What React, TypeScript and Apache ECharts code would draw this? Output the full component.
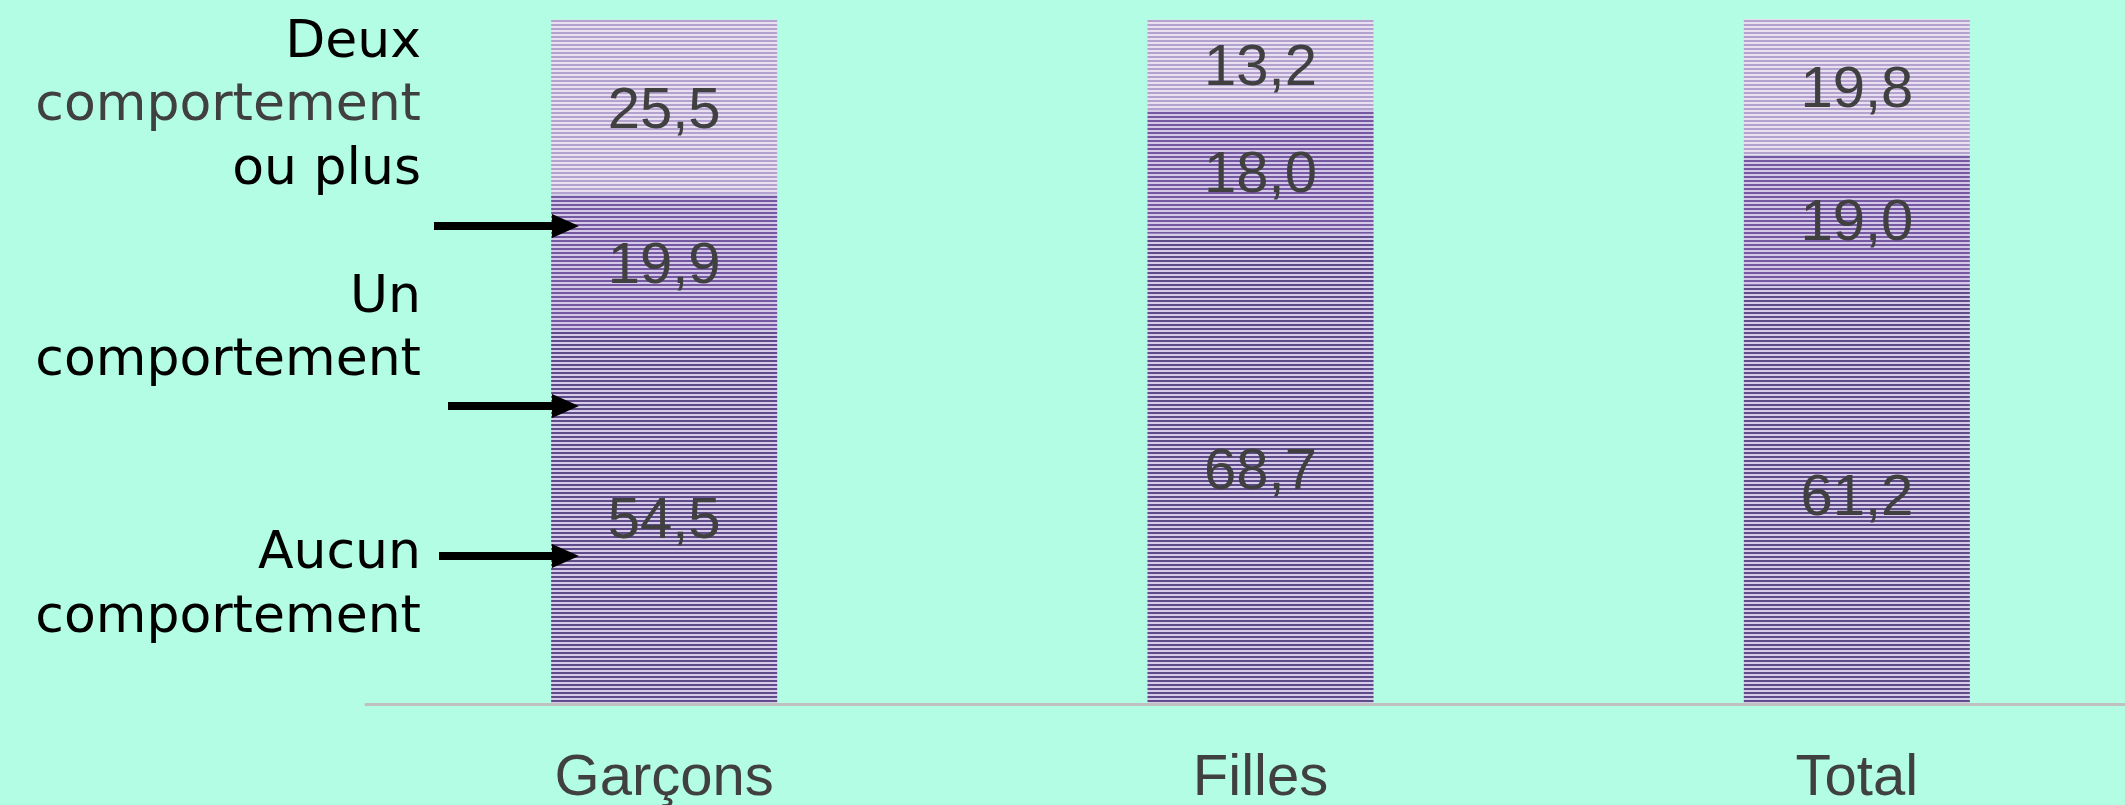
import React, { useEffect, useRef } from "react";
import * as echarts from "echarts";

const categories = ["Garçons", "Filles", "Total"];
const aucun = [54.5, 68.7, 61.2];
const un = [19.9, 18.0, 19.0];
const deux = [25.5, 13.2, 19.8];
const seriesNames = ["Aucun comportement", "Un comportement", "Deux comportements ou plus"];

const fmt = (v: number) => v.toFixed(1).replace(".", ",");

export default function App() {
  const ref = useRef<HTMLDivElement>(null);
  useEffect(() => {
    if (!ref.current) return;
    const chart = echarts.init(ref.current, undefined, { renderer: "svg" });
    const labelStyle = {
      show: true,
      position: "inside" as const,
      formatter: (p: any) => fmt(p.value),
      color: "#404040",
      fontSize: 58,
      fontFamily: "Liberation Sans, Arial, sans-serif",
    };
    const mk = (name: string, data: number[], base: string, stripe: string, edge: string) => ({
      name,
      type: "bar",
      stack: "all",
      data,
      barWidth: 226,
      itemStyle: {
        color: base,
        borderColor: edge,
        borderWidth: 0,
        decal: {
          symbol: "rect",
          symbolSize: 1,
          dashArrayX: [1, 0],
          dashArrayY: [2, 2],
          rotation: 0,
          color: stripe,
        },
      },
      label: labelStyle,
    });
    const leftFont = "DejaVu Sans, sans-serif";
    const txt = (t: string, y: number, fill: string) => ({
      type: "text",
      x: 421,
      y,
      z: 100,
      style: { text: t, fill, fontSize: 52, fontFamily: leftFont, align: "right", verticalAlign: "middle" },
    });
    const arrow = (x0: number, y: number) => ({
      type: "group",
      z: 100,
      children: [
        { type: "rect", z: 100, shape: { x: x0, y: y - 4, width: 556 - x0, height: 8 }, style: { fill: "#000" } },
        { type: "polygon", z: 100, shape: { points: [[552, y - 12], [579, y], [552, y + 12]] }, style: { fill: "#000" } },
      ],
    });
    chart.setOption({
      animation: false,
      backgroundColor: "#b3fde5",
      grid: { left: 366, right: -30, top: 19, bottom: 101, containLabel: false, outerBoundsMode: "none" },
      xAxis: {
        type: "category",
        data: categories,
        axisLine: { show: true, lineStyle: { color: "#c0c0c0", width: 3 } },
        axisTick: { show: false },
        axisLabel: { color: "#404040", fontSize: 58, margin: 41, fontFamily: "Liberation Sans, Arial, sans-serif" },
        z: 10,
      },
      yAxis: { type: "value", min: 0, max: 100, show: false, splitLine: { show: false } },
      series: [
        mk(seriesNames[0], aucun, "#d6cbe8", "#5f4a8a", "#5a4680"),
        mk(seriesNames[1], un, "#d4c7e8", "#7459a2", "#6a5296"),
        mk(seriesNames[2], deux, "#e8e0f1", "#b3a2cd", "#a898c4"),
      ],
      graphic: [
        txt("Deux", 39, "#000"),
        txt("comportement", 102, "#404040"),
        txt("ou plus", 166, "#000"),
        txt("Un", 294, "#000"),
        txt("comportement", 357, "#000"),
        txt("Aucun", 550, "#000"),
        txt("comportement", 614, "#000"),
        arrow(434, 226),
        arrow(448, 406),
        arrow(439, 556),
      ],
    });
    return () => chart.dispose();
  }, []);
  return <div ref={ref} style={{ position: "fixed", left: 0, top: 0, width: 2125, height: 805 }} />;
}
